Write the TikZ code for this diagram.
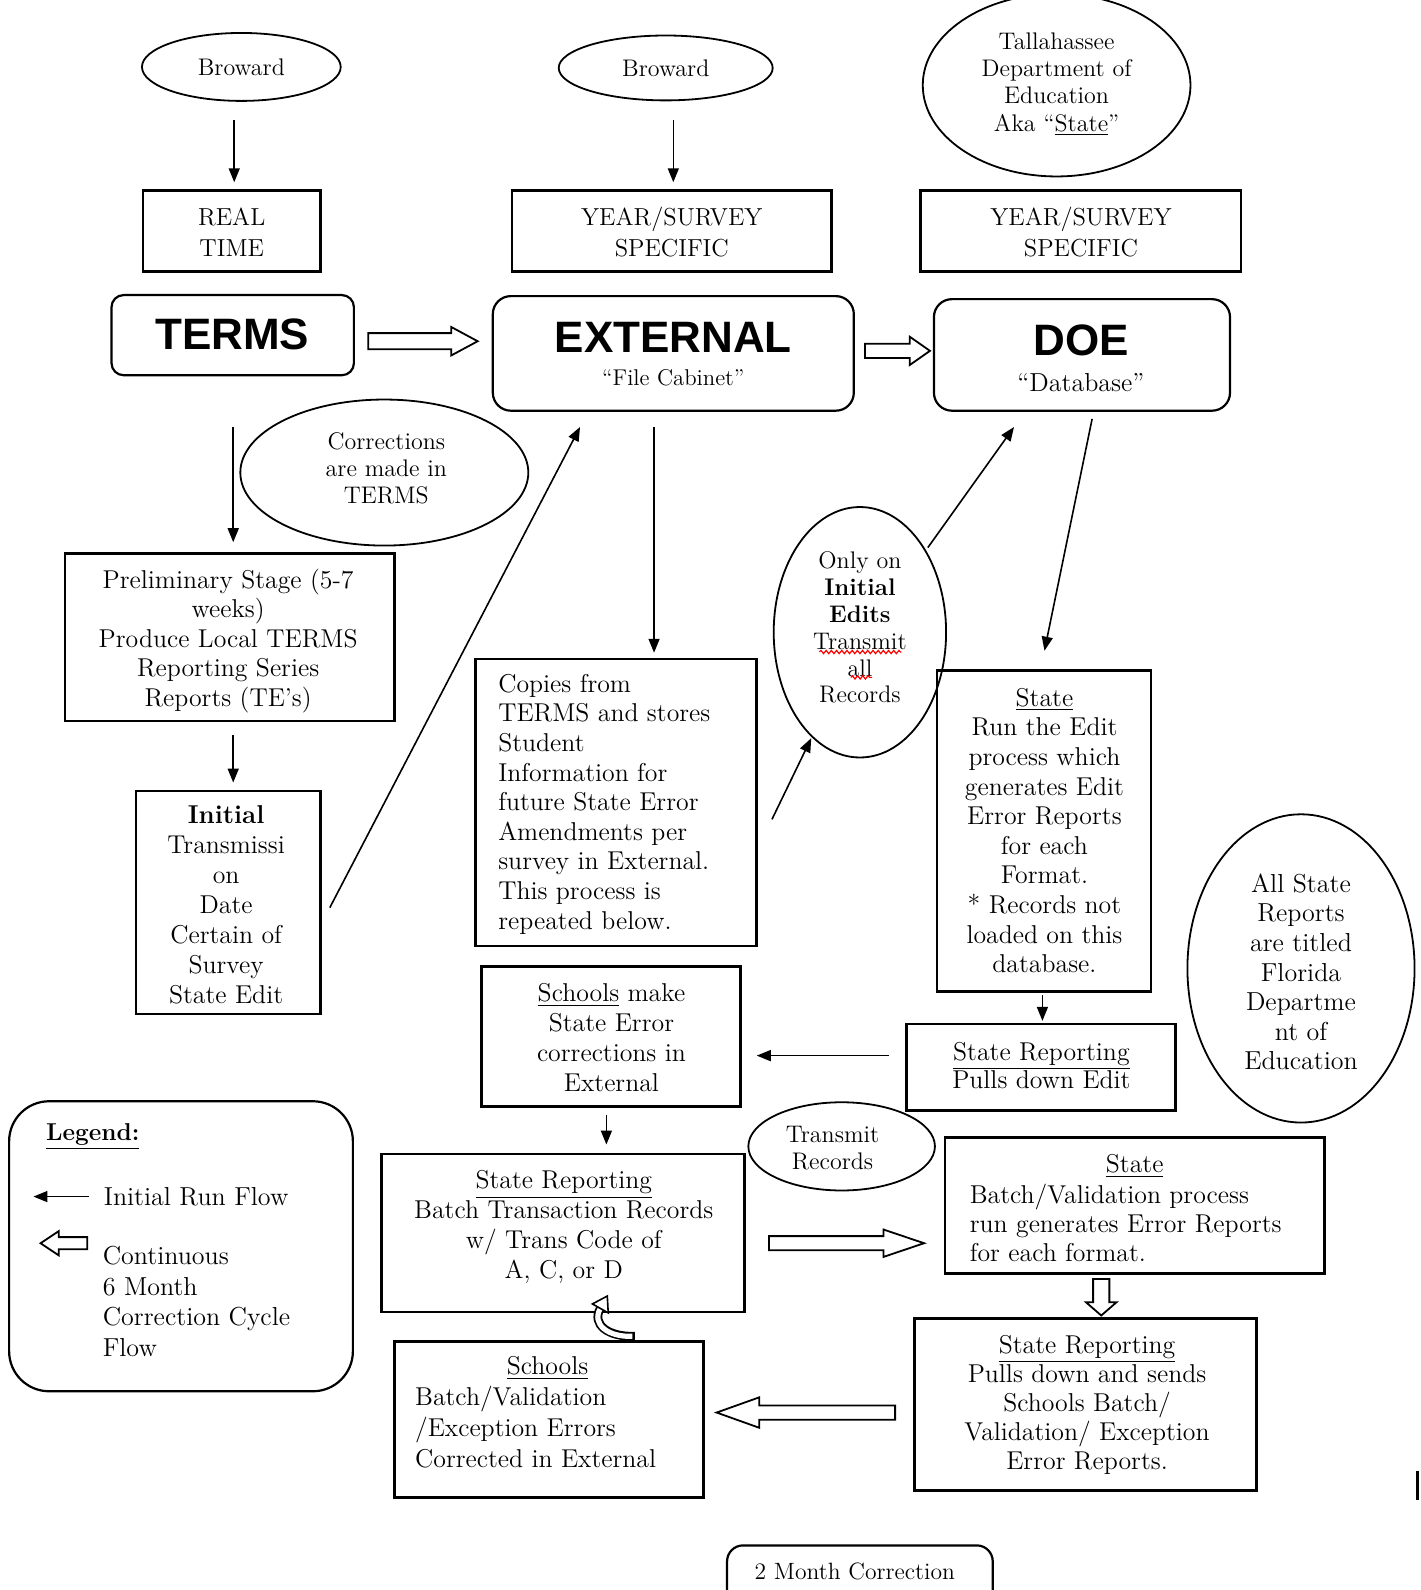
\documentclass[tikz,border=0pt]{standalone}
\usepackage{fontspec}
\newfontfamily\bigsans{Liberation Sans}
\usetikzlibrary{shapes.geometric,fit,calc,arrows.meta,decorations.pathmorphing}
\newcommand{\setfs}[2]{\fontsize{#1}{#2}\selectfont}
\newcommand{\hollowarr}[6]{\draw[harr, shift={#1}, rotate=#2] (0,-#4) -- ({#3-#6},-#4) -- ({#3-#6},-#5) -- (#3,0) -- ({#3-#6},#5) -- ({#3-#6},#4) -- (0,#4) -- cycle;}
\begin{document}
\begin{tikzpicture}[x=0.50714pt, y=-0.50714pt,
  box/.style={draw, line width=1.3pt, inner sep=0pt},
  rbox/.style={draw, line width=1.1pt, inner sep=0pt},
  ell/.style 2 args={ellipse, draw, line width=0.9pt, minimum width=#1*0.50714pt, minimum height=#2*0.50714pt, inner sep=0pt},
  txt/.style={align=center, inner sep=0pt, font=\setfs{12.9}{14.8}},
  ltxt/.style={align=left, inner sep=0pt, anchor=west, font=\setfs{12.9}{14.8}},
  stxt/.style={align=center, inner sep=0pt, font=\setfs{12}{13.6}},
  bigt/.style={inner sep=0pt, font=\bigsans\bfseries\setfs{22}{24}},
  arr/.style={line width=0.8pt, -{Triangle[length=7pt,width=5.5pt]}},
  harr/.style={draw, line width=0.9pt, fill=white, line join=miter}
]
\useasboundingbox (0,0) rectangle (1401,1568);

% ---------- top row ----------
\node[ell={196}{67}, font=\setfs{12}{13.6}] (b1) at (238,66) {Broward};
\node[ell={211}{64}, font=\setfs{12}{13.6}] (b2) at (656.5,67) {Broward};
\node[ell={264}{180}] (tal) at (1042,84) {};
\node[stxt, font=\setfs{12}{13.7}] (taltxt) at (1042,83) {Tallahassee\\Department of\\Education\\Aka ``\underline{State}''};

\node[box, fit={(141,188)(316,268)}] (rt) {};
\node[txt, font=\setfs{12.3}{15.7}] (rttxt) at (228.5,229) {REAL\\TIME};
\node[box, fit={(505,188)(820,268)}] (ys1) {};
\node[txt, font=\setfs{12.3}{15.7}] (ys1txt) at (662.5,229) {YEAR/SURVEY\\SPECIFIC};
\node[box, fit={(908,188)(1224,268)}] (ys2) {};
\node[txt, font=\setfs{12.3}{15.7}] (ys2txt) at (1066,229) {YEAR/SURVEY\\SPECIFIC};

% ---------- main stores ----------
\node[rbox, rounded corners=6pt, fit={(110,291)(349,370)}] (terms) {};
\node[bigt] (termstxt) at (229,330) {TERMS};
\node[rbox, rounded corners=9pt, fit={(486,292)(842,405)}] (ext) {};
\node[bigt] (exttxt) at (664,333) {EXTERNAL};
\node[stxt, font=\setfs{11.4}{13}] (extsub) at (664,372) {``File Cabinet''};
\node[rbox, rounded corners=9pt, fit={(921,295)(1213,405)}] (doe) {};
\node[bigt] (doetxt) at (1066,336) {DOE};
\node[stxt, font=\setfs{13}{14}] (doesub) at (1066,377) {``Database''};

% ---------- left column ----------
\node[ell={284}{144}] (corr) at (379,466) {};
\node[stxt, font=\setfs{12}{13.4}] (corrtxt) at (381,462) {Corrections\\are made in\\TERMS};
\node[box, fit={(64,546)(389,711)}] (prelim) {};
\node[txt] (prelimtxt) at (225,632) {Preliminary Stage (5-7\\weeks)\\Produce Local TERMS\\Reporting Series\\Reports (TE's)};
\node[box, fit={(134,780)(316,1000)}] (init) {};
\node[txt, font=\setfs{12.9}{15}] (inittxt) at (223,892.5) {\textbf{Initial}\\Transmissi\\on\\Date\\Certain of\\Survey\\State Edit};

% ---------- middle column ----------
\node[box, fit={(469,650)(746,933)}] (copies) {};
\node[ltxt] (copiestxt) at (491,793) {Copies from\\TERMS and stores\\Student\\Information for\\future State Error\\Amendments per\\survey in External.\\This process is\\repeated below.};
\node[ell={170}{247}] (only) at (848,623.5) {};
\node[stxt, font=\setfs{12}{13.4}] (onlytxt) at (848,619) {Only on\\\textbf{Initial}\\\textbf{Edits}\\Transmit\\all\\Records};
\draw[red, line width=0.6pt, decorate, decoration={snake, amplitude=0.8pt, segment length=2.6pt}] (808,643) -- (889,643);
\draw[red, line width=0.6pt, decorate, decoration={snake, amplitude=0.8pt, segment length=2.6pt}] (839,668) -- (860,668);

\node[box, fit={(475,953)(730,1091)}] (sm) {};
\node[txt, font=\setfs{12.9}{14.9}] (smtxt) at (603,1023) {\underline{Schools} make\\State Error\\corrections in\\External};
\node[box, fit={(376,1138)(734,1294)}] (batch) {};
\node[txt, font=\setfs{12.9}{14.9}] (batchtxt) at (556,1210) {\underline{State Reporting}\\Batch Transaction Records\\w/ Trans Code of\\A, C, or D};
\node[box, fit={(389,1323)(694,1477)}] (schools) {};
\node[txt] (schoolstitle) at (540,1349) {\underline{Schools}};
\node[ltxt, font=\setfs{12.9}{15.5}] (schoolstxt) at (409,1407.5) {Batch/Validation\\/Exception Errors\\Corrected in External};

% ---------- right column ----------
\node[box, fit={(924,661)(1135,978)}] (state) {};
\node[txt] (statetxt) at (1030,819) {\underline{State}\\Run the Edit\\process which\\generates Edit\\Error Reports\\for each\\Format.\\ * Records not\\loaded on this\\database.};
\node[ell={224}{304}] (allst) at (1283,955) {};
\node[stxt, font=\setfs{13}{14.8}] (allsttxt) at (1283,958.5) {All State\\Reports\\are titled\\Florida\\Departme\\nt of\\Education};
\node[box, fit={(894,1010)(1159,1095)}] (srp) {};
\node[txt, font=\setfs{12.9}{14.2}] (srptxt) at (1027,1051) {\underline{State Reporting}\\Pulls down Edit};
\node[ell={184}{87}] (trans) at (830,1130.5) {};
\node[stxt, font=\setfs{12}{13.7}] (transtxt) at (821,1132.5) {Transmit\\Records};
\node[box, fit={(932,1122)(1306,1256)}] (sbv) {};
\node[txt] (sbvtitle) at (1119,1150) {\underline{State}};
\node[ltxt, font=\setfs{12.9}{14.7}] (sbvtxt) at (956,1206) {Batch/Validation process\\run generates Error Reports\\for each format.};
\node[box, fit={(902,1300)(1239,1470)}] (srpull) {};
\node[txt, font=\setfs{12.9}{14.6}] (srpulltxt) at (1072,1385.5) {\underline{State Reporting}\\Pulls down and sends\\Schools Batch/\\Validation/ Exception\\Error Reports.};

% ---------- legend ----------
\node[rbox, rounded corners=20pt, fit={(9,1086)(348,1372)}] (legend) {};
\node[ltxt, font=\setfs{12.2}{14}] (legtitle) at (45,1121) {\textbf{\underline{Legend:}}};
\coordinate (lgA) at (88,1180);
\coordinate (lgB) at (33,1180);
\draw[arr] (lgA) -- (lgB);
\node[ltxt, font=\setfs{13}{15}] (leg1) at (102,1180) {Initial Run Flow};
\hollowarr{(86,1226)}{180}{46}{6}{12}{18}
\node[ltxt, font=\setfs{13}{15.4}] (leg2) at (101,1283.5) {Continuous\\6 Month\\Correction Cycle\\Flow};

% ---------- 2 month correction ----------
\node[stxt, font=\setfs{11.8}{13}] (twom) at (843,1550) {2 Month Correction};
\draw[line width=1.1pt, rounded corners=8pt] (717,1590) |- (848,1524) -| (979,1590);

% cursor mark
\draw[line width=1.2pt] (1398,1451) -- (1398,1479);

% ---------- thin arrows ----------
\draw[arr] ($(b1.south)+(-7,18)$) -- ($(rt.north)+(2.5,-7)$);
\draw[arr] ($(b2.south)+(7.5,18)$) -- ($(ys1.north)+(1.5,-7)$);
\draw[arr] ($(terms.south)+(0.5,50)$) -- ($(prelim.north)+(3.5,-10)$);
\draw[arr] ($(prelim.south)+(3.5,13)$) -- ($(init.north)+(5,-7)$);
\draw[arr] ($(init.east)+(8,5)$) -- ($(ext.south)+(-92,15)$);
\draw[arr] ($(ext.south)+(-19,15)$) -- ($(copies.north)+(37.5,-5)$);
\draw[arr] ($(copies.east)+(14,16.5)$) -- ($(only.center)+(-48,104.5)$);
\draw[arr] ($(only.center)+(67,-83.5)$) -- ($(doe.south)+(-67,15)$);
\draw[arr] ($(doe.south)+(10,7)$) -- ($(state.north)+(0.5,-18)$);
\draw[arr] ($(state.south)+(-1.5,2)$) -- ($(srp.north)+(1.5,-2)$);
\draw[arr] ($(srp.west)+(-16,-11.5)$) -- ($(sm.east)+(15,19)$);
\draw[arr] ($(sm.south)+(-4.5,7)$) -- ($(batch.north)+(43,-8)$);

% ---------- hollow arrows ----------
\hollowarr{($(terms.east)+(13,6)$)}{0}{108}{8}{14}{26}
\hollowarr{($(ext.east)+(10,-2.5)$)}{0}{64}{7}{14}{20}
\hollowarr{($(batch.east)+(23,10)$)}{0}{153}{7}{13.5}{40}
\hollowarr{($(sbv.south)+(-33,4)$)}{-90}{36}{8}{15}{13}
\hollowarr{($(srpull.west)+(-18,8)$)}{180}{176}{7}{15}{42}

% curved hollow arrow schools -> batch
\draw[line width=4.4pt] ($(schools.north)+(84.5,-4)$) .. controls ($(schools.north)+(58.5,-3)$) and ($(batch.south)+(28,11)$) .. ($(batch.south)+(37,-5)$);
\draw[white, line width=2.6pt, shorten <=1.2pt] ($(schools.north)+(84.5,-4)$) .. controls ($(schools.north)+(58.5,-3)$) and ($(batch.south)+(28,11)$) .. ($(batch.south)+(37,-5)$);
\filldraw[fill=white, line width=0.8pt, line join=miter] ($(batch.south)+(29.2,-9.4)$) -- ($(batch.south)+(44.8,-0.6)$) -- ($(batch.south)+(43.9,-17.2)$) -- cycle;
\end{tikzpicture}
\end{document}
